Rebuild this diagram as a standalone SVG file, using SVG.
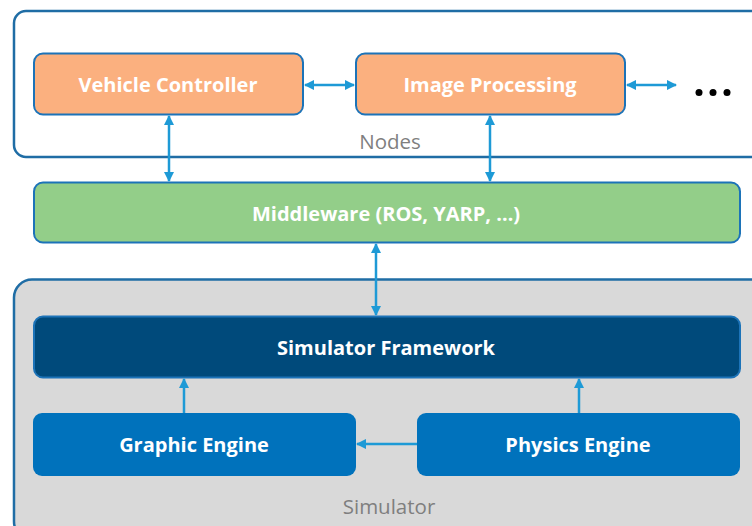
<svg xmlns="http://www.w3.org/2000/svg" width="752" height="526" viewBox="0 0 752 526">
<defs>
<marker id="ah" viewBox="0 0 10 10" refX="9" refY="5" markerWidth="4.2" markerHeight="4.2" orient="auto-start-reverse" markerUnits="strokeWidth"><path d="M0,0 L10,5 L0,10 z" fill="#1E9AD6"/></marker>
<style>
.lbl{font-family:"Open Sans","Liberation Sans",sans-serif;font-weight:bold;font-size:20px;fill:#fff;text-anchor:middle;dominant-baseline:central}
.cap{font-family:"Open Sans","Liberation Sans",sans-serif;font-size:20.5px;fill:#7F7F7F;text-anchor:middle}
.c{stroke:#1E9AD6;stroke-width:2.5;fill:none}
.box{stroke:#1C73B8;stroke-width:2}
</style>
</defs>
<rect width="752" height="526" fill="#fff"/>
<g id="nodes-group">
<rect x="14" y="11" width="760" height="146" rx="12" fill="#fff" stroke="#1F6DA5" stroke-width="2.5"/>
<text class="cap" x="390" y="149">Nodes</text>
</g>
<g id="simulator-group">
<rect x="14" y="279.5" width="760" height="260" rx="18" fill="#D9D9D9" stroke="#1F6DA5" stroke-width="2.5"/>
<text class="cap" x="389" y="514">Simulator</text>
</g>
<g id="vehicle-controller">
<rect class="box" x="34" y="53.5" width="269" height="61" rx="9" fill="#FBB07F"/>
<text class="lbl" x="168" y="84">Vehicle Controller</text>
</g>
<g id="image-processing">
<rect class="box" x="356" y="53.5" width="269" height="61" rx="9" fill="#FBB07F"/>
<text class="lbl" x="490" y="84">Image Processing</text>
</g>
<g id="ellipsis">
<circle cx="699" cy="92.5" r="3.5" fill="#000"/>
<circle cx="713" cy="92.5" r="3.5" fill="#000"/>
<circle cx="727" cy="92.5" r="3.5" fill="#000"/>
</g>
<g id="middleware">
<rect class="box" x="34" y="182.5" width="706" height="60" rx="9" fill="#93CE89"/>
<text class="lbl" x="386" y="213">Middleware (ROS, YARP, …)</text>
</g>
<g id="simulator-framework">
<rect class="box" x="34" y="316.5" width="706" height="61" rx="9" fill="#004A7B" stroke="#1478C0"/>
<text class="lbl" x="386" y="347">Simulator Framework</text>
</g>
<g id="graphic-engine">
<rect x="33" y="413" width="323" height="63" rx="9" fill="#0072BC"/>
<text class="lbl" x="194" y="444">Graphic Engine</text>
</g>
<g id="physics-engine">
<rect x="417" y="413" width="323" height="63" rx="9" fill="#0072BC"/>
<text class="lbl" x="578" y="444">Physics Engine</text>
</g>
<g id="connectors">
<line class="c" x1="305" y1="85" x2="354" y2="85" marker-start="url(#ah)" marker-end="url(#ah)"/>
<line class="c" x1="627" y1="85" x2="676" y2="85" marker-start="url(#ah)" marker-end="url(#ah)"/>
<line class="c" x1="169" y1="116" x2="169" y2="181" marker-start="url(#ah)" marker-end="url(#ah)"/>
<line class="c" x1="490" y1="116" x2="490" y2="181" marker-start="url(#ah)" marker-end="url(#ah)"/>
<line class="c" x1="376" y1="244" x2="376" y2="315" marker-start="url(#ah)" marker-end="url(#ah)"/>
<line class="c" x1="184" y1="413" x2="184" y2="379" marker-end="url(#ah)"/>
<line class="c" x1="579" y1="413" x2="579" y2="379" marker-end="url(#ah)"/>
<line class="c" x1="417" y1="444" x2="357" y2="444" marker-end="url(#ah)"/>
</g>
</svg>
